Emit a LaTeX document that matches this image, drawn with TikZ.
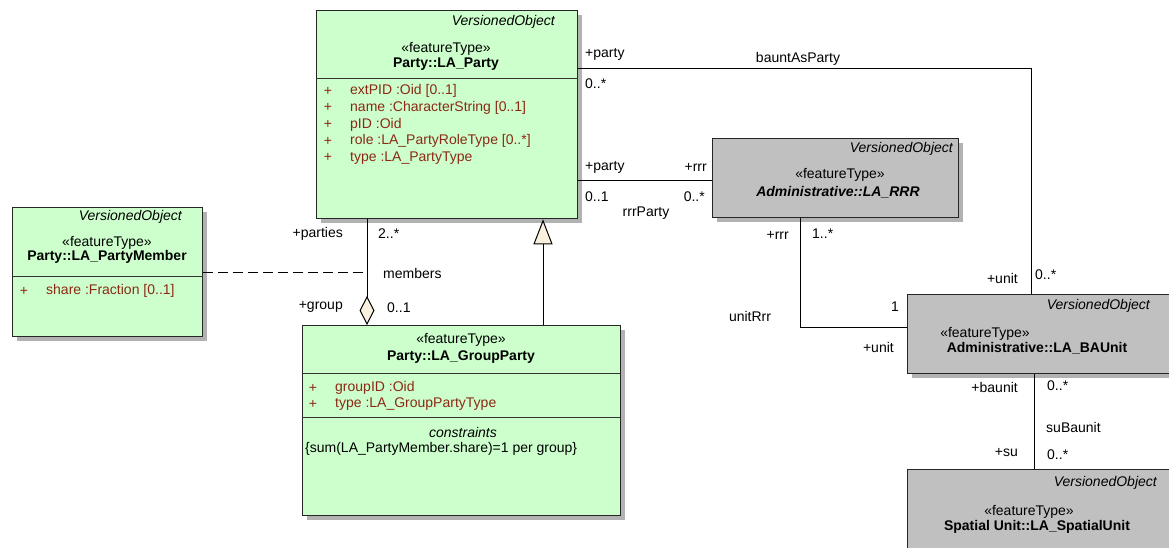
\documentclass[tikz,border=0pt]{standalone}
\usepackage{fontspec}
\setmainfont{Liberation Sans}
\usetikzlibrary{shadows,arrows.meta}

\definecolor{clsgreen}{RGB}{204,255,204}
\definecolor{clsgrey}{RGB}{192,192,192}
\definecolor{attrred}{RGB}{140,40,20}
\definecolor{tipcream}{RGB}{250,240,222}

\begin{document}
\begin{tikzpicture}[x=1pt, y=-1pt,
    every node/.style={font=\fontsize{14}{16}\selectfont, inner sep=0pt},
    cls/.style={draw=black!85, line width=1.3pt, anchor=north west,
      drop shadow={shadow xshift=4pt, shadow yshift=-4pt, fill=black!30, opacity=1}},
    sep/.style={draw=black!80, line width=1pt},
    vo/.style={anchor=east, font=\fontsize{14}{16}\selectfont\itshape},
    nm/.style={font=\fontsize{14}{16}\selectfont\bfseries},
    attr/.style={anchor=west, text=attrred},
    plus/.style={text=attrred},
    lbl/.style={},
    assoc/.style={draw=black, line width=1pt}]

    \clip (0,0) rectangle (1169,548);
    \fill[white] (0,0) rectangle (1169,548);

    % classes
    \node[cls, fill=clsgreen, minimum width=261pt, minimum height=208pt] (party) at (316,10) {};
    \node[cls, fill=clsgreen, minimum width=190pt, minimum height=129pt] (member) at (12,207) {};
    \node[cls, fill=clsgreen, minimum width=318pt, minimum height=190pt] (group) at (302,325) {};
    \node[cls, fill=clsgrey, minimum width=246pt, minimum height=79pt] (rrr) at (712,138) {};
    \node[cls, fill=clsgrey, minimum width=280pt, minimum height=79pt] (bau) at (907,294) {};
    \node[cls, fill=clsgrey, minimum width=280pt, minimum height=100pt] (spunit) at (907,469) {};

    % compartments
    \draw[sep] ([yshift=-69pt]party.north west) -- ([yshift=-69pt]party.north east);
    \draw[sep] ([yshift=-69pt]member.north west) -- ([yshift=-69pt]member.north east);
    \draw[sep] ([yshift=-48pt]group.north west) -- ([yshift=-48pt]group.north east);
    \draw[sep] ([yshift=-92pt]group.north west) -- ([yshift=-92pt]group.north east);

    % LA_Party
    \node[vo] (party-vo) at (555,22) {VersionedObject};
    \node (party-st) at (446,49) {«featureType»};
    \node[nm] (party-nm) at (446,64) {Party::LA\_Party};
    \foreach \y/\t [count=\i] in {91/extPID :Oid [0..1], 107.7/name :CharacterString [0..1],
        124.4/pID :Oid, 141/role :LA\_PartyRoleType [0..*], 157.8/type :LA\_PartyType} {
      \node[plus] (party-p\i) at (328,\y) {+};
      \node[attr] (party-a\i) at (350,\y) {\t};
    }

    % LA_PartyMember
    \node[vo] (member-vo) at (182,217) {VersionedObject};
    \node (member-st) at (107,243) {«featureType»};
    \node[nm] (member-nm) at (107,257) {Party::LA\_PartyMember};
    \node[plus] (member-p1) at (24,291) {+};
    \node[attr] (member-a1) at (46,291) {share :Fraction [0..1]};

    % LA_GroupParty
    \node (group-st) at (461,340) {«featureType»};
    \node[nm] (group-nm) at (461,357) {Party::LA\_GroupParty};
    \foreach \y/\t [count=\i] in {388/groupID :Oid, 404/type :LA\_GroupPartyType} {
      \node[plus] (group-p\i) at (313,\y) {+};
      \node[attr] (group-a\i) at (335,\y) {\t};
    }
    \node[font=\fontsize{14}{16}\selectfont\itshape] (group-ct) at (463,432) {constraints};
    \node[anchor=west] (group-c1) at (305,449) {\{sum(LA\_PartyMember.share)=1 per group\}};

    % LA_RRR
    \node[vo] (rrr-vo) at (953,149) {VersionedObject};
    \node (rrr-st) at (840,175) {«featureType»};
    \node[font=\fontsize{14}{16}\selectfont\bfseries\itshape] (rrr-nm) at (838,192) {Administrative::LA\_RRR};

    % LA_BAUnit
    \node[vo] (bau-vo) at (1150,306) {VersionedObject};
    \node (bau-st) at (985,334) {«featureType»};
    \node[nm] (bau-nm) at (1037,348) {Administrative::LA\_BAUnit};

    % LA_SpatialUnit
    \node[vo] (spunit-vo) at (1157,483) {VersionedObject};
    \node (spunit-st) at (1029,512) {«featureType»};
    \node[nm] (spunit-nm) at (1037,527) {Spatial Unit::LA\_SpatialUnit};

    % associations
    \draw[assoc] ([yshift=-59pt]party.north east) -| ([xshift=124pt]bau.north west);
    \coordinate (rp) at ([yshift=-171pt]party.north east);
    \draw[assoc] (rp) -- (rp -| rrr.west);
    \draw[assoc] ([xshift=88pt]rrr.south west) |- ([yshift=-33pt]bau.north west);
    \draw[assoc] ([xshift=127pt]bau.south west) -- ([xshift=127pt]spunit.north west);

    % generalization
    \coordinate (gen) at ([xshift=241pt]group.north west);
    \draw[assoc, -{Triangle[open, fill=tipcream, width=19pt, length=25pt]}] (gen) -- (gen |- party.south);

    % aggregation
    \coordinate (agg) at ([xshift=65pt]group.north west);
    \draw[assoc, {Diamond[open, fill=tipcream, width=15pt, length=29pt]}-] (agg) -- (agg |- party.south);
    \draw[assoc, dash pattern=on 10pt off 5pt] (member.east) -- (member.east -| agg);

    % association labels
    \node[lbl, anchor=west] (bp-party) at (585,54) {+party};
    \node[lbl, anchor=west] (bp-mult) at (585,84) {0..*};
    \node[lbl] (bp-name) at (798,59) {bauntAsParty};
    \node[lbl, anchor=west] (rp-party) at (585,167) {+party};
    \node[lbl, anchor=east] (rp-rrr) at (707,167) {+rrr};
    \node[lbl, anchor=west] (rp-mult1) at (585,197) {0..1};
    \node[lbl, anchor=east] (rp-mult2) at (705,197) {0..*};
    \node[lbl] (rp-name) at (646,213) {rrrParty};
    \node[lbl, anchor=east] (ur-rrr) at (789,235) {+rrr};
    \node[lbl, anchor=west] (ur-mult1) at (812,234) {1..*};
    \node[lbl] (ur-name) at (750,316) {unitRrr};
    \node[lbl, anchor=east] (ur-mult2) at (899,307) {1};
    \node[lbl, anchor=east] (ur-unit) at (894,347) {+unit};
    \node[lbl, anchor=east] (bp-unit) at (1018,278) {+unit};
    \node[lbl, anchor=west] (bp-mult2) at (1035,275) {0..*};
    \node[lbl, anchor=east] (sb-baunit) at (1018,387) {+baunit};
    \node[lbl, anchor=west] (sb-mult1) at (1047,386) {0..*};
    \node[lbl, anchor=west] (sb-name) at (1046,427) {suBaunit};
    \node[lbl, anchor=east] (sb-su) at (1018,453) {+su};
    \node[lbl, anchor=west] (sb-mult2) at (1047,455) {0..*};
    \node[lbl, anchor=east] (mb-parties) at (343,234) {+parties};
    \node[lbl, anchor=west] (mb-mult1) at (378,234) {2..*};
    \node[lbl, anchor=west] (mb-name) at (383,273) {members};
    \node[lbl, anchor=east] (mb-group) at (343,307) {+group};
    \node[lbl, anchor=west] (mb-mult2) at (387,308) {0..1};
\end{tikzpicture}
\end{document}
